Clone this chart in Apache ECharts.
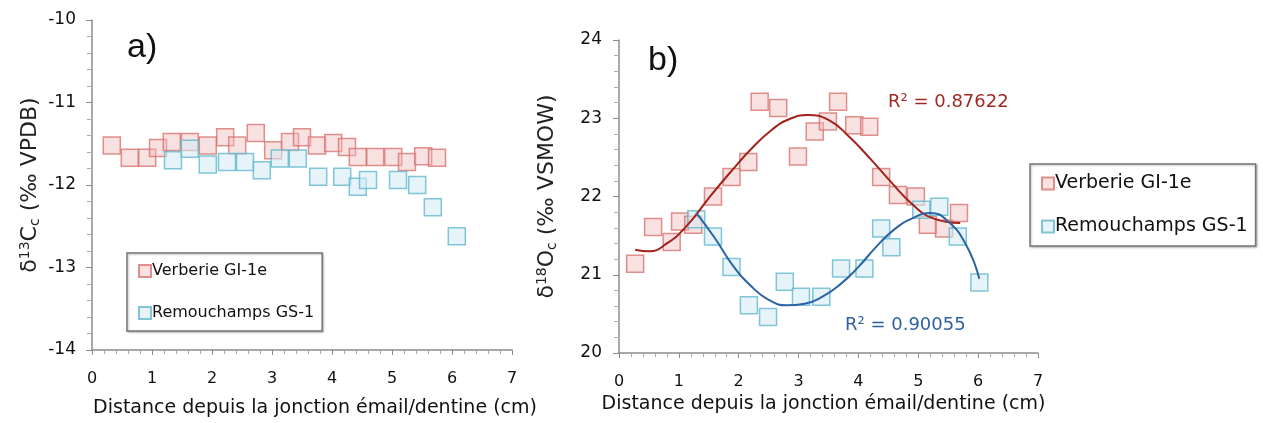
<!DOCTYPE html>
<html>
<head>
<meta charset="utf-8">
<script src="https://cdn.jsdelivr.net/npm/echarts@6/dist/echarts.min.js"></script>
<style>
  html, body { margin: 0; padding: 0; background: #fff; }
  #chart { width: 1263px; height: 423px; }
</style>
</head>
<body>
<div id="chart"></div>
<script>
// a) delta13C, Verberie
const c13VerbX = [0.33, 0.63, 0.92, 1.1, 1.33, 1.63, 1.93, 2.22, 2.42, 2.73, 3.02, 3.3, 3.5, 3.75, 4.02, 4.25, 4.43, 4.72, 5.02, 5.25, 5.52, 5.75];
const c13VerbY = [-11.52, -11.67, -11.67, -11.55, -11.48, -11.48, -11.52, -11.42, -11.52, -11.37, -11.58, -11.48, -11.42, -11.52, -11.49, -11.54, -11.66, -11.66, -11.66, -11.72, -11.65, -11.67];
// a) delta13C, Remouchamps
const c13RemX = [1.35, 1.63, 1.93, 2.25, 2.55, 2.83, 3.13, 3.43, 3.77, 4.17, 4.43, 4.6, 5.1, 5.42, 5.68, 6.08];
const c13RemY = [-11.70, -11.56, -11.75, -11.72, -11.72, -11.82, -11.68, -11.68, -11.90, -11.90, -12.02, -11.94, -11.94, -12.0, -12.27, -12.62];

// b) delta18O, Verberie
const o18VerbX = [0.27, 0.57, 0.88, 1.02, 1.24, 1.57, 1.88, 2.16, 2.35, 2.66, 2.99, 3.27, 3.49, 3.66, 3.93, 4.18, 4.38, 4.66, 4.96, 5.16, 5.43, 5.68];
const o18VerbY = [21.14, 21.61, 21.42, 21.68, 21.64, 22.0, 22.25, 22.44, 23.21, 23.13, 22.51, 22.83, 22.96, 23.21, 22.91, 22.89, 22.25, 22.02, 22.0, 21.64, 21.59, 21.79];
// b) delta18O, Remouchamps
const o18RemX = [1.29, 1.57, 1.88, 2.17, 2.49, 2.77, 3.04, 3.38, 3.71, 4.1, 4.38, 4.55, 5.05, 5.35, 5.66, 6.02];
const o18RemY = [21.71, 21.49, 21.10, 20.61, 20.46, 20.91, 20.72, 20.72, 21.08, 21.08, 21.59, 21.35, 21.83, 21.87, 21.49, 20.90];

// trend curves, points
const trendVerbX = [0.27, 0.5, 0.8, 1.15, 1.5, 1.85, 2.2, 2.55, 2.85, 3.15, 3.5, 3.85, 4.2, 4.55, 4.9, 5.25, 5.7];
const trendVerbY = [21.32, 21.30, 21.40, 21.64, 21.98, 22.30, 22.60, 22.85, 22.99, 23.04, 22.98, 22.76, 22.48, 22.18, 21.90, 21.72, 21.66];
const trendRemX = [1.29, 1.6, 1.9, 2.2, 2.5, 2.8, 3.1, 3.4, 3.7, 4.0, 4.3, 4.6, 4.9, 5.2, 5.5, 5.8, 6.02];
const trendRemY = [21.79, 21.47, 21.12, 20.86, 20.68, 20.61, 20.63, 20.72, 20.88, 21.10, 21.36, 21.58, 21.72, 21.79, 21.68, 21.38, 20.95];

const seriesNames = ['Verberie GI-1e', 'Remouchamps GS-1'];
const r2Labels = ['R² = 0.87622', 'R² = 0.90055'];
const xTitle = 'Distance depuis la jonction émail/dentine (cm)';

const FONT = 'DejaVu Sans';
const pair = (xs, ys) => xs.map((x, i) => [x, ys[i]]);

const verbStyle = { color: 'rgba(238, 186, 186, 0.55)', borderColor: '#d87472', borderWidth: 1.5 };
const remStyle = { color: 'rgba(210, 236, 244, 0.7)', borderColor: '#62b8cd', borderWidth: 1.5 };

function xAxis(gridIndex, nameGap, namePad) {
    return {
        gridIndex: gridIndex,
        type: 'value',
        min: 0, max: 7, interval: 1,
        name: xTitle,
        nameLocation: 'middle',
        nameGap: nameGap,
        nameTextStyle: { color: '#111', fontSize: 19, fontFamily: FONT, padding: namePad },
        axisLine: { lineStyle: { color: '#8c8c8c', width: 1.5 } },
        axisTick: { length: 5, lineStyle: { color: '#8c8c8c' } },
        minorTick: { show: true, splitNumber: 5, length: 4, lineStyle: { color: '#aaa' } },
        axisLabel: { color: '#111', fontSize: 16, fontFamily: FONT, margin: 21 },
        splitLine: { show: false }
    };
}

function yAxis(gridIndex, min, max, name, nameGap, labelMargin) {
    return {
        gridIndex: gridIndex,
        type: 'value',
        min: min, max: max, interval: 1,
        name: name,
        nameLocation: 'middle',
        nameRotate: 90,
        nameGap: nameGap,
        nameTextStyle: {
            color: '#222', fontSize: 22, fontFamily: FONT,
            rich: {
                sup: { fontSize: 14, verticalAlign: 'top', padding: [0, 0, 10, 0], fontFamily: FONT, color: '#222' },
                sub: { fontSize: 14, verticalAlign: 'bottom', padding: [10, 0, 0, 0], fontFamily: FONT, color: '#222' }
            }
        },
        axisLine: { show: true, lineStyle: { color: '#8c8c8c', width: 1.5 } },
        axisTick: { show: true, length: 6, lineStyle: { color: '#8c8c8c' } },
        minorTick: { show: true, splitNumber: 5, length: 5, lineStyle: { color: '#aaa' } },
        axisLabel: { color: '#111', fontSize: 17, fontFamily: FONT, margin: labelMargin },
        splitLine: { show: false }
    };
}

const chart = echarts.init(document.getElementById('chart'));

const option = {
    backgroundColor: '#fff',
    animation: false,
    grid: [
        { left: 92, top: 20, width: 420, height: 331 },
        { left: 619, top: 40, width: 419, height: 313 }
    ],
    xAxis: [xAxis(0, 49, [0, 0, 0, 26]), xAxis(1, 42, [0, 0, 0, -10])],
    yAxis: [
        yAxis(0, -14, -10, 'δ{sup|13}C{sub|c} (‰ VPDB)', 50, 16),
        yAxis(1, 20, 24, 'δ{sup|18}O{sub|c} (‰ VSMOW)', 60, 17)
    ],
    legend: [
        {
            data: seriesNames,
            orient: 'vertical',
            left: 127, top: 253,
            padding: [10, 8, 10, 11],
            itemGap: 26,
            itemWidth: 12, itemHeight: 12,
            icon: 'rect',
            borderColor: '#777', borderWidth: 1.5,
            backgroundColor: '#fff',
            shadowColor: 'rgba(0,0,0,0.25)', shadowBlur: 2, shadowOffsetX: 1, shadowOffsetY: 1,
            textStyle: { color: '#111', fontSize: 16, fontFamily: FONT, padding: [0, 0, 0, -4] }
        },
        {
            data: seriesNames,
            orient: 'vertical',
            left: 1030, top: 164,
            padding: [10, 8, 10, 11],
            itemGap: 24,
            itemWidth: 12, itemHeight: 12,
            icon: 'rect',
            borderColor: '#777', borderWidth: 1.5,
            backgroundColor: '#fff',
            shadowColor: 'rgba(0,0,0,0.25)', shadowBlur: 2, shadowOffsetX: 1, shadowOffsetY: 1,
            textStyle: { color: '#111', fontSize: 19, fontFamily: FONT, padding: [0, 0, 0, -4] }
        }
    ],
    graphic: [
        { type: 'text', left: 127, top: 31, style: { text: 'a)', font: '34px "Liberation Sans", Arial', fill: '#111' } },
        { type: 'text', left: 648, top: 44, style: { text: 'b)', font: '34px "Liberation Sans", Arial', fill: '#111' } },
        { type: 'text', left: 888, top: 93, style: { text: r2Labels[0], font: '18px "DejaVu Sans"', fill: '#9e2a24' } },
        { type: 'text', left: 845, top: 316, style: { text: r2Labels[1], font: '18px "DejaVu Sans"', fill: '#2f62a0' } }
    ],
    series: [
        {
            name: seriesNames[0], type: 'scatter', xAxisIndex: 0, yAxisIndex: 0,
            symbol: 'rect', symbolSize: 17, data: pair(c13VerbX, c13VerbY), itemStyle: verbStyle
        },
        {
            name: seriesNames[1], type: 'scatter', xAxisIndex: 0, yAxisIndex: 0,
            symbol: 'rect', symbolSize: 17, data: pair(c13RemX, c13RemY), itemStyle: remStyle
        },
        {
            name: seriesNames[0], type: 'scatter', xAxisIndex: 1, yAxisIndex: 1,
            symbol: 'rect', symbolSize: 17, data: pair(o18VerbX, o18VerbY), itemStyle: verbStyle
        },
        {
            name: seriesNames[1], type: 'scatter', xAxisIndex: 1, yAxisIndex: 1,
            symbol: 'rect', symbolSize: 17, data: pair(o18RemX, o18RemY), itemStyle: remStyle
        },
        {
            name: 'trend Verberie', type: 'line', xAxisIndex: 1, yAxisIndex: 1,
            data: pair(trendVerbX, trendVerbY), smooth: true, showSymbol: false,
            lineStyle: { color: '#a3231b', width: 2 }, z: 3
        },
        {
            name: 'trend Remouchamps', type: 'line', xAxisIndex: 1, yAxisIndex: 1,
            data: pair(trendRemX, trendRemY), smooth: true, showSymbol: false,
            lineStyle: { color: '#2d64a3', width: 2 }, z: 3
        }
    ]
};

chart.setOption(option);
</script>
</body>
</html>
